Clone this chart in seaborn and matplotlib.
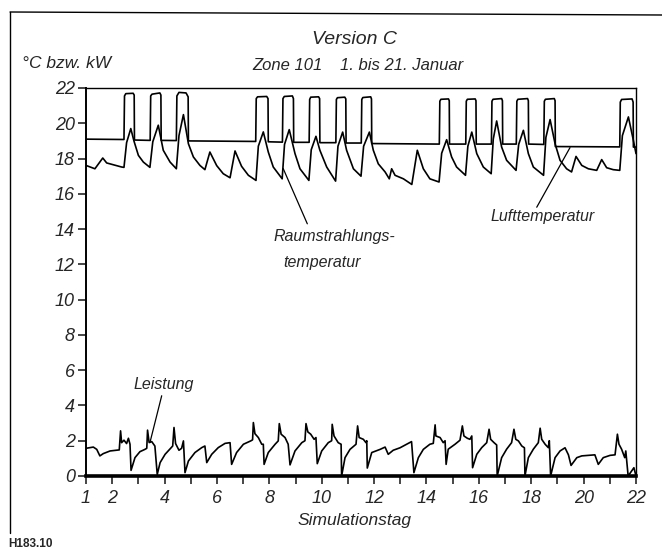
import matplotlib
matplotlib.use("Agg")
import matplotlib.pyplot as plt
import seaborn as sns
import pandas as pd
from matplotlib.lines import Line2D

# ---------------- data ----------------
air_day = [1.00, 2.45, 2.47, 2.52, 2.80, 2.84, 2.85,
           3.45, 3.47, 3.52, 3.82, 3.86, 3.87,
           4.45, 4.47, 4.55, 4.82, 4.90, 4.91,
           7.48, 7.50, 7.55, 7.90, 7.95, 7.96,
           8.50, 8.52, 8.57, 8.88, 8.92, 8.93,
           9.52, 9.54, 9.58, 9.88, 9.92, 9.93,
           10.54, 10.56, 10.60, 10.88, 10.92, 10.93,
           11.51, 11.53, 11.57, 11.87, 11.90, 11.91,
           14.49, 14.51, 14.55, 14.84, 14.87, 14.88,
           15.50, 15.52, 15.56, 15.86, 15.89, 15.90,
           16.48, 16.50, 16.54, 16.87, 16.90, 16.91,
           17.43, 17.45, 17.49, 17.86, 17.89, 17.90,
           18.48, 18.50, 18.54, 18.88, 18.91, 18.92,
           21.38, 21.40, 21.45, 21.85, 21.89, 21.90, 22.00]
air_temp = [19.10, 19.08, 21.55, 21.68, 21.70, 21.60, 19.05,
            19.03, 21.55, 21.65, 21.72, 21.60, 19.03,
            19.02, 21.55, 21.75, 21.72, 21.50, 19.00,
            18.97, 21.40, 21.50, 21.52, 21.40, 18.95,
            18.93, 21.40, 21.52, 21.55, 21.40, 18.92,
            18.92, 21.35, 21.48, 21.50, 21.40, 18.90,
            18.90, 21.35, 21.45, 21.48, 21.38, 18.88,
            18.88, 21.35, 21.46, 21.50, 21.38, 18.85,
            18.82, 21.25, 21.36, 21.38, 21.28, 18.82,
            18.82, 21.25, 21.36, 21.38, 21.28, 18.82,
            18.82, 21.25, 21.36, 21.40, 21.28, 18.82,
            18.82, 21.25, 21.36, 21.40, 21.28, 18.82,
            18.80, 21.25, 21.36, 21.40, 21.28, 18.68,
            18.66, 21.20, 21.35, 21.38, 21.20, 18.65, 18.65]

rad_day = [1.00, 1.34, 1.64, 1.79, 2.36, 2.45, 2.55, 2.71, 2.83, 3.00, 3.19, 3.44,
           3.55, 3.76, 3.95, 4.21, 4.45, 4.55, 4.72, 4.91, 5.10, 5.35, 5.54, 5.73,
           5.99, 6.24, 6.50, 6.69, 6.94, 7.20, 7.49, 7.58, 7.77, 7.96, 8.15, 8.49,
           8.58, 8.76, 8.98, 9.17, 9.51, 9.60, 9.78, 9.93, 10.19, 10.53, 10.62, 10.80,
           10.95, 11.21, 11.50, 11.60, 11.82, 11.97, 12.16, 12.42, 12.58, 12.67, 12.80,
           13.12, 13.44, 13.65, 13.88, 14.13, 14.48, 14.58, 14.77, 14.96, 15.15, 15.49,
           15.58, 15.73, 15.92, 16.17, 16.47, 16.55, 16.68, 16.87, 17.06, 17.42, 17.52,
           17.70, 17.89, 18.08, 18.47, 18.56, 18.72, 18.91, 19.10, 19.35, 19.54, 19.71,
           19.93, 20.18, 20.50, 20.69, 20.88, 21.13, 21.38, 21.48, 21.71, 21.90, 22.00]
rad_temp = [17.61, 17.42, 18.03, 17.75, 17.52, 17.50, 18.90, 19.70, 19.00, 18.18, 17.80, 17.50,
            18.95, 19.89, 18.47, 17.80, 17.42, 19.30, 20.49, 18.84, 18.09, 17.61, 17.37, 18.37,
            17.60, 17.14, 16.91, 18.43, 17.56, 17.05, 16.76, 18.70, 19.51, 18.37, 17.52, 16.85,
            18.80, 19.64, 18.28, 17.42, 16.76, 18.50, 19.26, 18.47, 17.52, 16.72, 18.70, 19.50,
            18.47, 17.42, 17.00, 18.70, 19.50, 18.47, 17.70, 17.24, 16.85, 17.42, 17.05,
            16.85, 16.53, 18.47, 17.42, 16.85, 16.67, 18.30, 19.07, 18.09, 17.52, 17.05,
            18.70, 19.50, 18.28, 17.52, 17.14, 19.10, 20.13, 18.65, 17.90, 17.33, 18.80,
            19.60, 18.28, 17.52, 17.05, 19.20, 20.21, 18.84, 17.90, 17.42, 17.24, 18.12,
            17.61, 17.42, 17.33, 17.94, 17.48, 17.37, 17.33, 19.30, 20.36, 19.03, 18.28]

pow_day = [1.00, 1.28, 1.41, 1.53, 1.66, 1.92, 2.27, 2.32, 2.36, 2.45, 2.55, 2.62, 2.68, 2.72,
           2.87, 3.06, 3.25, 3.32, 3.35, 3.41, 3.51, 3.63, 3.72, 3.83, 4.02, 4.23, 4.31,
           4.36, 4.42, 4.55, 4.65, 4.72, 4.78, 4.91, 5.16, 5.42, 5.54, 5.61, 5.80, 6.05,
           6.31, 6.50, 6.56, 6.75, 7.01, 7.29, 7.36, 7.39, 7.45, 7.58, 7.71, 7.77, 7.80,
           7.96, 8.22, 8.34, 8.38, 8.45, 8.60, 8.72, 8.79, 8.98, 9.24, 9.36, 9.40, 9.47,
           9.58, 9.71, 9.78, 9.83, 10.00, 10.25, 10.38, 10.40, 10.47, 10.63, 10.74, 10.76,
           10.89, 11.08, 11.31, 11.37, 11.43, 11.59, 11.69, 11.72, 11.74, 11.91, 12.23,
           12.42, 12.54, 12.73, 12.99, 13.24, 13.43, 13.52, 13.69, 13.88, 14.13, 14.26,
           14.33, 14.36, 14.52, 14.64, 14.71, 14.75, 14.83, 15.09, 15.28, 15.37, 15.43,
           15.56, 15.66, 15.73, 15.76, 15.92, 16.11, 16.30, 16.39, 16.45, 16.58, 16.68,
           16.70, 16.87, 17.06, 17.25, 17.34, 17.41, 17.51, 17.64, 17.74, 17.76, 17.89,
           18.08, 18.27, 18.34, 18.40, 18.53, 18.65, 18.69, 18.74, 18.91, 19.10, 19.29,
           19.42, 19.52, 19.74, 19.93, 20.18, 20.43, 20.56, 20.75, 21.01, 21.20, 21.29,
           21.35, 21.45, 21.57, 21.61, 21.70, 21.83, 21.92, 22.00]
pow_kw = [1.57, 1.64, 1.51, 1.14, 1.27, 1.42, 1.48, 2.56, 1.89, 2.03, 1.84, 2.14, 1.80, 0.32,
          1.04, 1.38, 1.51, 1.57, 2.60, 1.90, 1.95, 1.70, 0.09, 0.76, 1.23, 1.57, 1.70,
          2.75, 1.84, 1.46, 1.57, 1.99, 0.19, 0.85, 1.33, 1.61, 1.70, 0.76, 1.23, 1.61,
          1.85, 1.89, 0.66, 1.33, 1.80, 1.99, 2.05, 3.03, 2.40, 2.18, 1.80, 1.80, 0.66,
          1.33, 1.80, 1.99, 2.97, 2.37, 2.18, 1.80, 0.63, 1.42, 1.89, 2.00, 2.97, 2.50,
          2.37, 2.08, 2.18, 0.70, 1.42, 1.89, 2.00, 2.93, 2.27, 1.89, 1.80, 0.00,
          1.04, 1.51, 1.80, 2.84, 2.18, 2.08, 1.89, 2.00, 0.45, 1.33, 1.51,
          1.64, 1.23, 1.46, 1.60, 1.80, 1.95, 0.19, 1.04, 1.51, 1.80, 1.85,
          2.90, 2.27, 2.18, 1.89, 2.00, 0.66, 1.52, 1.80, 2.03, 2.84, 2.27,
          2.14, 2.08, 2.27, 0.47, 1.23, 1.61, 1.89, 2.65, 2.08, 1.89, 1.76,
          0.00, 1.04, 1.52, 1.89, 2.65, 2.08, 1.99, 1.70, 1.60, 0.00, 1.04,
          1.52, 1.89, 2.71, 2.08, 1.80, 1.61, 2.00, 0.00, 1.04, 1.42, 1.60,
          1.20, 0.60, 1.04, 1.14, 1.17, 1.20, 0.66, 1.04, 1.17, 1.20, 2.37,
          1.80, 1.52, 1.04, 1.42, 0.00, 0.28, 0.47, 0.00]

x_ticks = list(range(1, 23))
x_labels = ["1", "2", "", "4", "", "6", "", "8", "", "10", "", "12", "", "14", "",
            "16", "", "18", "", "20", "", "22"]
y_ticks = [0, 2, 4, 6, 8, 10, 12, 14, 16, 18, 20, 22]

# ---------------- figure ----------------
sns.set_style("ticks")
plt.rcParams["font.family"] = ["Liberation Sans", "DejaVu Sans"]

W, H = 662, 550
fig = plt.figure(figsize=(W / 100, H / 100), dpi=100)
ax = fig.add_axes([86 / W, (H - 476) / H, 550 / W, 388 / H])

df_air = pd.DataFrame({"Tag": air_day, "Wert": air_temp})
df_rad = pd.DataFrame({"Tag": rad_day, "Wert": rad_temp})
df_pow = pd.DataFrame({"Tag": pow_day, "Wert": pow_kw})
for d in (df_air, df_rad, df_pow):
    sns.lineplot(data=d, x="Tag", y="Wert", ax=ax, estimator=None, sort=False,
                 color="black", linewidth=1.2)

ax.set_xlim(1, 22)
ax.set_ylim(0, 22)
ax.set_xlabel("")
ax.set_ylabel("")
ax.set_xticks(x_ticks)
ax.set_xticklabels(x_labels, fontsize=13, style="italic")
ax.set_yticks(y_ticks)
ax.set_yticklabels([str(v) for v in y_ticks], fontsize=13, style="italic")
ax.tick_params(axis="x", direction="out", length=6, width=1.2, pad=4)
ax.tick_params(axis="y", direction="out", length=6, width=1.2, pad=2)
for s in ("top", "right"):
    ax.spines[s].set_visible(True)
    ax.spines[s].set_linewidth(1.0)
ax.spines["left"].set_linewidth(1.4)
ax.spines["bottom"].set_linewidth(2.6)
for s in ax.spines.values():
    s.set_color("black")
ax.set_facecolor("white")
ax.grid(False)


def px(x, y):
    return x / W, 1 - y / H


def ftext(x, y, s, size, ha="left", style="italic", **kw):
    fx, fy = px(x, y)
    fig.text(fx, fy, s, fontsize=size, ha=ha, va="center", style=style, **kw)


ftext(354, 40, "Version C", 14, ha="center")
ftext(22, 64, "°C bzw. kW", 12.5)
ftext(252, 66, "Zone 101", 12)
ftext(340, 66, "1. bis 21. Januar", 12)
ftext(273, 237, "Raumstrahlungs-", 11.5)
ftext(283, 262, "temperatur", 11.5)
ftext(490, 216, "Lufttemperatur", 11.5)
ftext(133, 384, "Leistung", 11.5)
ftext(355, 521, "Simulationstag", 12.5, ha="center")
ftext(8, 544, "H183.10", 8.5, style="normal", fontweight="bold")

# leader lines (data coordinates)
ax.plot([8.53, 9.45], [17.43, 14.3], color="black", lw=0.9, clip_on=False)
ax.plot([19.48, 18.21], [18.62, 15.24], color="black", lw=0.9, clip_on=False)
ax.plot([3.89, 3.44], [4.55, 1.89], color="black", lw=0.9, clip_on=False)

# page frame
fig.add_artist(Line2D([10 / W, 1.0], [1 - 12 / H, 1 - 15 / H], color="black", lw=1.0))
fig.add_artist(Line2D([10 / W, 10 / W], [1 - 12 / H, 1 - 533 / H], color="black", lw=1.0))

fig.savefig("out.png", dpi=100, facecolor="white")
